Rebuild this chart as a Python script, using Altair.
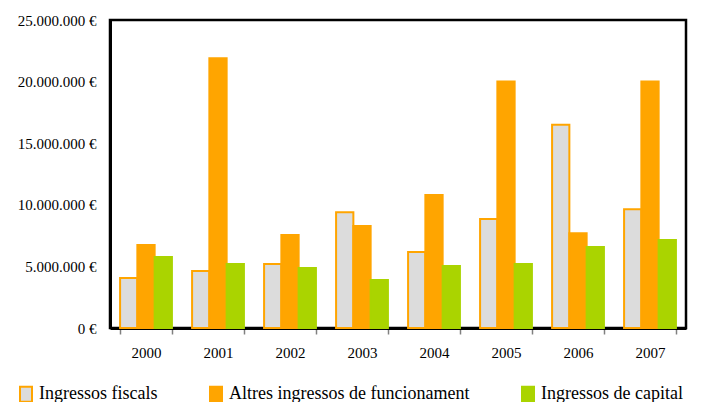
import altair as alt
import pandas as pd

years = ["2000", "2001", "2002", "2003", "2004", "2005", "2006", "2007"]
series = ["Ingressos fiscals", "Altres ingressos de funcionament", "Ingressos de capital"]
fiscals = [4.06e6, 4.63e6, 5.20e6, 9.40e6, 6.17e6, 8.85e6, 16.5e6, 9.63e6]
altres = [6.74e6, 21.9e6, 7.55e6, 8.28e6, 10.8e6, 20.0e6, 7.70e6, 20.0e6]
capital = [5.76e6, 5.20e6, 4.87e6, 3.90e6, 5.03e6, 5.20e6, 6.57e6, 7.14e6]
y_ticks = [0, 5e6, 10e6, 15e6, 20e6, 25e6]

rows = []
for name, vals in zip(series, [fiscals, altres, capital]):
    for yr, v in zip(years, vals):
        rows.append({"any": yr, "serie": name, "valor": v})
df = pd.DataFrame(rows)

fills = ["#dcdcdc", "#FFA500", "#AAD400"]
strokes = ["#FFA500", "#FFA500", "#AAD400"]
font = "Liberation Serif"

chart = alt.Chart(df).mark_bar(strokeWidth=2).encode(
    x=alt.X("any:N", sort=years, title=None,
            scale=alt.Scale(paddingInner=0.28, paddingOuter=0.14),
            axis=alt.Axis(labelAngle=0, tickBand="extent", tickColor="#808080",
                          tickSize=6, tickWidth=1.5, domainColor="black", domainWidth=3,
                          labelFont=font, labelFontSize=15, labelColor="black",
                          labelPadding=11)),
    xOffset=alt.XOffset("serie:N", sort=series, scale=alt.Scale(domain=series, paddingInner=0, paddingOuter=0)),
    y=alt.Y("valor:Q", title=None,
            scale=alt.Scale(domain=[0, 25e6], nice=False),
            axis=alt.Axis(values=y_ticks, grid=False, ticks=False, domainColor="black",
                          domainWidth=3, labelFont=font, labelFontSize=15, labelColor="black",
                          labelPadding=14,
                          labelExpr="replace(format(datum.value, ',.0f'), regexp(',', 'g'), '.') + ' €'")),
    fill=alt.Fill("serie:N", scale=alt.Scale(domain=series, range=fills),
                  legend=alt.Legend(title=None, orient="none", direction="horizontal",
                                    legendX=-93, legendY=365,
                                    symbolType="M-0.8,-1H0.8V1H-0.8Z",
                                    symbolSize=225, symbolStrokeWidth=2,
                                    labelFont=font, labelFontSize=18, labelColor="black",
                                    labelLimit=0, columnPadding=48, labelOffset=4,
                                    padding=0)),
    stroke=alt.Stroke("serie:N", scale=alt.Scale(domain=series, range=strokes), legend=None),
).properties(
    width=576, height=308,
    autosize=alt.AutoSizeParams(type="none"),
    padding={"left": 102, "top": 12, "right": 7, "bottom": 74},
).configure_view(
    stroke="black", strokeWidth=2.5
).configure_legend(labelFont=font)

chart.save("out.html", embed_options={"renderer": "svg", "actions": False})
